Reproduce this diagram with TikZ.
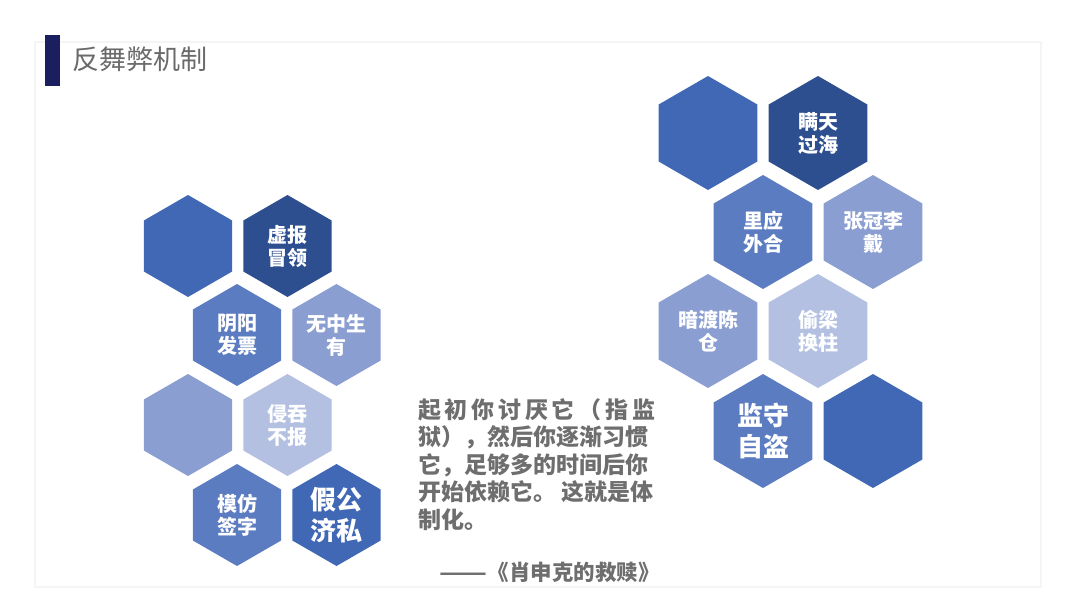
\documentclass[tikz,border=0pt]{standalone}
\usepackage{fontspec}
\setmainfont{Noto Sans CJK SC}
\usetikzlibrary{shapes.geometric, positioning}
\definecolor{hexdark}{HTML}{2E4F8F}
\definecolor{hexblue}{HTML}{4068B5}
\definecolor{hexmid}{HTML}{5C7CC1}
\definecolor{hexlight}{HTML}{8A9ED2}
\definecolor{hexpale}{HTML}{B3C0E2}
\definecolor{navybar}{HTML}{1B1F5F}
\definecolor{titlegray}{HTML}{6A6A6A}
\definecolor{quotegray}{HTML}{6E6E6E}
\tikzset{
	hexa/.style={regular polygon, regular polygon sides=6, shape border rotate=30, inner sep=0pt, text=white, align=center, font=\bfseries\fontsize{20}{23}\selectfont},
	hexsmall/.style={hexa, minimum size=102pt},
	hexbig/.style={hexa, minimum size=114pt},
	% larger lettering in two of the cells
	bigtext/.style={font=\bfseries\fontsize{26}{31}\selectfont},
	quotetext/.style={text=quotegray, inner sep=0pt, font=\bfseries\fontsize{23}{27.5}\selectfont},
}

\begin{document}
\begin{tikzpicture}[x=1pt, y=-1pt]
	\useasboundingbox (0,0) rectangle (1080,608);
	\draw[black!4, line width=1.5pt] (35,42) rectangle (1041,587);
	
	% title
	\fill[navybar] (45,35) rectangle (60,86);
	\node (title) [anchor=west, text=titlegray, inner sep=0pt, font=\fontsize{27}{30}\selectfont] at (72,59) {反舞弊机制};
	
	% left cluster
	\begin{scope}[node distance=99.5pt]
		\node (l1) [hexsmall, fill=hexblue] at (188,246) {};
		\node (l2) [hexsmall, fill=hexdark, right of=l1] {虚报\\冒领};
		
		\node (l3) [hexsmall, fill=hexmid] at (237,335) {阴阳\\发票};
		\node (l4) [hexsmall, fill=hexlight, right of=l3] {无中生\\有};
		
		\node (l5) [hexsmall, fill=hexlight] at (188,425) {};
		\node (l6) [hexsmall, fill=hexpale, right of=l5] {侵吞\\不报};
		
		\node (l7) [hexsmall, fill=hexmid] at (237,515) {模仿\\签字};
		\node (l8) [hexsmall, fill=hexblue, right of=l7, bigtext] {假公\\济私};
	\end{scope}
	
	% right cluster
	\begin{scope}[node distance=110pt]
		\node (r1) [hexbig, fill=hexblue] at (708,133) {};
		\node (r2) [hexbig, fill=hexdark, right of=r1] {瞒天\\过海};
		
		\node (r3) [hexbig, fill=hexmid] at (763,232) {里应\\外合};
		\node (r4) [hexbig, fill=hexlight, right of=r3] {张冠李\\戴};
		
		\node (r5) [hexbig, fill=hexlight] at (708,331) {暗渡陈\\仓};
		\node (r6) [hexbig, fill=hexpale, right of=r5] {偷梁\\换柱};
		
		\node (r7) [hexbig, fill=hexmid, bigtext] at (763,431) {监守\\自盗};
		\node (r8) [hexbig, fill=hexblue, right of=r7] {};
	\end{scope}
	
	% quote
	\node (quote) [quotetext, anchor=north west, align=left] at (418,398)
		{\hbox to 237pt{起\hfil 初\hfil 你\hfil 讨\hfil 厌\hfil 它\hfil （\hfil 指\hfil 监}\\
		狱），然后你逐渐习惯\\
		它，足够多的时间后你\\
		开始依赖它。 这就是体\\
		制化。};
	\node (source) [quotetext, anchor=east, font=\bfseries\fontsize{21.5}{24}\selectfont] at (660,572) {\scalebox{1.3}[1]{——}《肖申克的救赎》};
\end{tikzpicture}
\end{document}
